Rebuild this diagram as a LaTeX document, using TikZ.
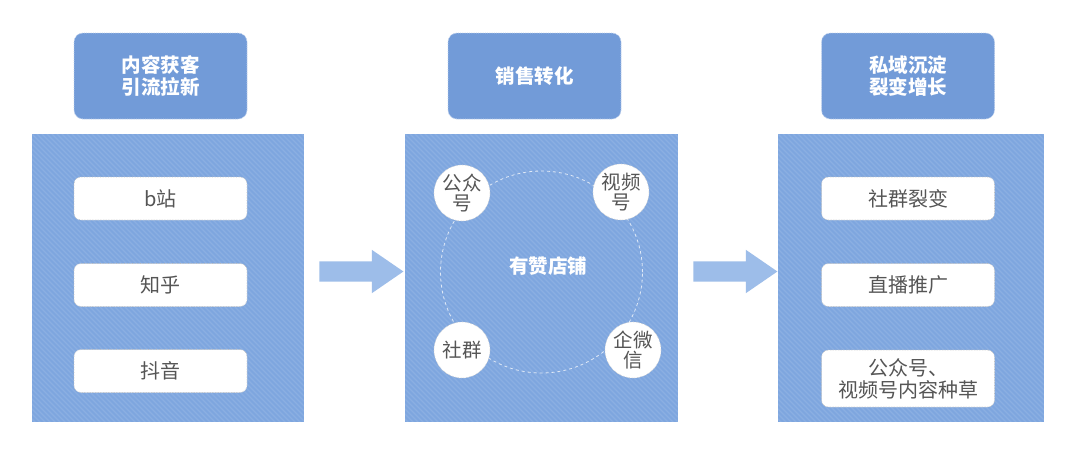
\documentclass[tikz,border=0pt]{standalone}
\usepackage{fontspec}
\setmainfont{Noto Sans CJK SC}
\usetikzlibrary{shapes.arrows,calc}
\definecolor{panelc}{HTML}{7EA6DF}
\definecolor{headc}{HTML}{729BD8}
\definecolor{arrc}{HTML}{9DBDE9}
\definecolor{txtc}{HTML}{555555}
\tikzset{
  panel/.style={rectangle, fill=panelc, inner sep=0},
  head/.style={rectangle, rounded corners=9pt, fill=headc, draw=white!55!headc, densely dotted, line width=0.8pt,
    minimum width=173pt, minimum height=86pt, text=white, font=\fontsize{19.5}{21.5}\selectfont\bfseries, align=center, inner sep=0},
  item/.style={rectangle, rounded corners=7pt, fill=white, draw=black!25, densely dotted, line width=0.6pt,
    minimum width=173pt, minimum height=43pt, text=txtc, font=\fontsize{20}{22}\selectfont, align=center, inner sep=0},
  bubble/.style={circle, fill=white, draw=black!20, densely dotted, line width=0.6pt, minimum size=56pt, inner sep=0,
    text=txtc, font=\fontsize{19.5}{20}\selectfont, align=center},
  ring/.style={circle, draw=white!75!panelc, dashed, line width=0.8pt, minimum size=202pt, inner sep=0},
  flow/.style={single arrow, fill=arrc, draw=none, inner sep=0, text height=10pt, text depth=10pt,
    minimum height=84pt, single arrow head extend=11.5pt, single arrow tip angle=69, shape border rotate=0, anchor=tail},
  stripe/.style={white, opacity=0.1, line width=1.1pt}
}
\begin{document}
\begin{tikzpicture}[x=1pt,y=-1pt]
\path[fill=white] (0,0) rectangle (1080,456);
\useasboundingbox (0,0) rectangle (1080,456);
% panels
\node[panel, minimum width=272pt, minimum height=288pt] (L) at (168,278) {};
\node[panel, minimum width=273pt, minimum height=288pt] (M) at (541.5,278) {};
\node[panel, minimum width=266pt, minimum height=288pt] (R) at (911,278) {};
% stripes
\foreach \p in {L,M,R}{
  \begin{scope}
    \clip (\p.north west) rectangle (\p.south east);
    \foreach \k in {-300,-295,...,300}{
      \draw[stripe] ($(\p.north west)+(\k,0)$) -- ++(300,300);
    }
  \end{scope}
}
% headers
\node[head] (hL) at (160.5,76) {内容获客\\引流拉新};
\node[head] (hM) at (534.5,76) {销售转化};
\node[head] (hR) at (908,76) {私域沉淀\\裂变增长};
% left items
\node[item] (l1) at (160.5,198.5) {b站};
\node[item] (l2) at (160.5,285) {知乎};
\node[item] (l3) at (160.5,371) {抖音};
% right items
\node[item] (r1) at (908,198.5) {社群裂变};
\node[item] (r2) at (908,285) {直播推广};
\node[item, minimum height=57pt] (r3) at (908,378.5) {公众号、\\视频号内容种草};
% middle
\node[ring] (rg) at (541.5,272) {};
\node[text=white, font=\fontsize{19.5}{20}\selectfont\bfseries] (shop) at (548,266) {有赞店铺};
\node[bubble] (c1) at (462,193) {公众\\号};
\node[bubble] (c2) at (621,192) {视频\\号};
\node[bubble] (c3) at (462,350) {社群};
\node[bubble] (c4) at (633,350) {企微\\信};
% arrows
\coordinate (t1) at ($(L.east)+(15,-6.5)$);
\coordinate (t2) at ($(M.east)+(15,-6.5)$);
\node[flow] (a1) at (t1) {};
\node[flow] (a2) at (t2) {};
\end{tikzpicture}
\end{document}
